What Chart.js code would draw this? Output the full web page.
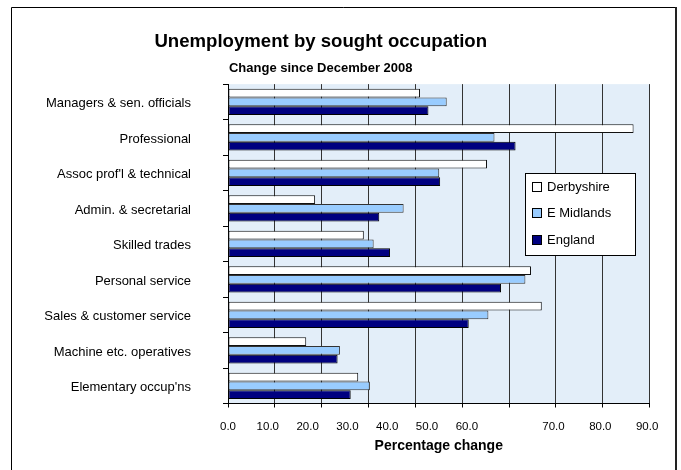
<!DOCTYPE html>
<html>
<head>
<meta charset="utf-8">
<title>Unemployment by sought occupation</title>
<script src="https://cdn.jsdelivr.net/npm/chart.js@4.4.1/dist/chart.umd.min.js"></script>
<style>
  html, body { margin: 0; padding: 0; background: #ffffff; }
  canvas { display: block; }
</style>
</head>
<body>
<canvas id="chart" width="681" height="470"></canvas>
<script>
// Occupation groups, top to bottom
const occupations = [
  "Managers & sen. officials",
  "Professional",
  "Assoc prof'l & technical",
  "Admin. & secretarial",
  "Skilled trades",
  "Personal service",
  "Sales & customer service",
  "Machine etc. operatives",
  "Elementary occup'ns"
];

// Percentage change in claimants since December 2008
const derbyshire   = [41.0, 86.6, 55.3, 18.6, 29.0, 64.7, 67.0, 16.7, 27.8];
const eastMidlands = [46.7, 56.9, 45.1, 37.5, 31.1, 63.5, 55.6, 23.9, 30.3];
const england      = [42.8, 61.4, 45.3, 32.3, 34.6, 58.3, 51.4, 23.4, 26.2];

// Value-axis labels
const tickValues = [0, 10, 20, 30, 40, 50, 60, 70, 80, 90];

const FONT = '"Liberation Sans", Arial, Helvetica, sans-serif';
Chart.defaults.font.family = FONT;
Chart.defaults.color = '#000000';

// Label placement on the value axis: up to 60 the labels run on a tighter pitch
// than the grid, the last three sit just left of their gridlines.
function labelSlot(v) {
  return v <= 60 ? v * 0.85 : v - 0.5;
}

// White page, pale blue plot area and the outer frame
const chartFrame = {
  id: 'chartFrame',
  beforeDraw(chart) {
    const { ctx, chartArea: a } = chart;
    ctx.save();
    ctx.fillStyle = '#ffffff';
    ctx.fillRect(0, 0, chart.width, chart.height);
    ctx.fillStyle = '#E3EEF9';
    ctx.fillRect(a.left, a.top, a.right - a.left, a.bottom - a.top);
    ctx.strokeStyle = '#000000';
    ctx.lineWidth = 1;
    ctx.beginPath();
    ctx.moveTo(11.5, chart.height);
    ctx.lineTo(11.5, 7.5);
    ctx.lineTo(676, 7.5);
    ctx.stroke();
    ctx.strokeStyle = '#222222';
    ctx.lineWidth = 2;
    ctx.beginPath();
    ctx.moveTo(676, 7);
    ctx.lineTo(676, chart.height);
    ctx.stroke();
    ctx.restore();
  }
};

// Boxed legend inside the plot area, right side
const boxLegend = {
  id: 'boxLegend',
  afterDraw(chart) {
    const { ctx, chartArea: a } = chart;
    const w = 110, h = 82;
    const x = Math.round(a.right - 15 - w);
    const y = Math.round(a.top + 89);
    ctx.save();
    ctx.fillStyle = '#ffffff';
    ctx.fillRect(x, y, w, h);
    ctx.strokeStyle = '#000000';
    ctx.lineWidth = 1;
    ctx.strokeRect(x + 0.5, y + 0.5, w, h);
    ctx.font = '13px ' + FONT;
    ctx.textBaseline = 'middle';
    ctx.textAlign = 'left';
    chart.data.datasets.forEach((ds, i) => {
      const cy = Math.round(y + 14 + i * 26.3);
      ctx.fillStyle = ds.backgroundColor;
      ctx.fillRect(x + 7, cy - 5, 10, 10);
      ctx.strokeStyle = '#000000';
      ctx.strokeRect(x + 7.5, cy - 4.5, 9, 9);
      ctx.fillStyle = '#000000';
      ctx.fillText(ds.label, x + 22, cy + 0.5);
    });
    ctx.restore();
  }
};

const LEFT_PAD = -8;      // pulls the centred titles slightly left
const PLOT_LEFT = 228;    // x position of the value-axis origin

new Chart(document.getElementById('chart'), {
  type: 'bar',
  data: {
    labels: occupations,
    datasets: [
      { label: 'Derbyshire', data: derbyshire, backgroundColor: '#FFFFFF', borderColor: '#111111', borderWidth: 1 },
      { label: 'E Midlands', data: eastMidlands, backgroundColor: '#99CCFF', borderColor: '#333333', borderWidth: 1 },
      { label: 'England', data: england, backgroundColor: '#000080', borderColor: '#000000', borderWidth: 1 }
    ]
  },
  options: {
    indexAxis: 'y',
    responsive: false,
    animation: false,
    events: [],
    layout: { padding: { left: LEFT_PAD, right: 31.5, top: 0, bottom: 15.1 } },
    datasets: {
      bar: { categoryPercentage: 0.74, barPercentage: 1.0, borderSkipped: false }
    },
    plugins: {
      legend: { display: false },
      tooltip: { enabled: false },
      title: {
        display: true,
        text: 'Unemployment by sought occupation',
        color: '#000000',
        font: { family: FONT, size: 18.6, weight: 'bold' },
        padding: { top: 31, bottom: 0 }
      },
      subtitle: {
        display: true,
        text: 'Change since December 2008',
        color: '#000000',
        font: { family: FONT, size: 13, weight: 'bold' },
        padding: { top: 7.2, bottom: 8 }
      }
    },
    scales: {
      x: {
        type: 'linear',
        position: 'bottom',
        weight: 0,
        min: 0,
        max: 90,
        ticks: { display: false, stepSize: 10 },
        grid: { color: '#333333', lineWidth: 1, drawTicks: true, tickLength: 4, tickColor: '#000000' },
        border: { display: true, color: '#000000', width: 1 }
      },
      xLabels: {
        type: 'linear',
        axis: 'x',
        position: 'bottom',
        weight: 1,
        min: 0,
        max: 90,
        grid: { display: false },
        border: { display: false },
        afterBuildTicks: (scale) => {
          scale.ticks = tickValues.map(v => ({ value: labelSlot(v) }));
        },
        afterFit: (scale) => { scale.height = 47.4; },
        ticks: {
          autoSkip: false,
          maxRotation: 0,
          padding: 4.5,
          color: '#000000',
          font: { family: FONT, size: 11.5 },
          callback: (value, index) => tickValues[index].toFixed(1)
        },
        title: {
          display: true,
          text: 'Percentage change',
          color: '#000000',
          font: { family: FONT, size: 14, weight: 'bold' },
          padding: { top: 0, bottom: 0 }
        }
      },
      y: {
        type: 'category',
        position: 'left',
        afterFit: (scale) => { scale.width = PLOT_LEFT - LEFT_PAD; },
        ticks: { color: '#000000', font: { family: FONT, size: 13 }, padding: 32, labelOffset: 2 },
        grid: { drawOnChartArea: false, drawTicks: true, tickLength: 5, color: '#000000', offset: true },
        border: { display: true, color: '#000000', width: 1 }
      }
    }
  },
  plugins: [chartFrame, boxLegend]
});
</script>
</body>
</html>
